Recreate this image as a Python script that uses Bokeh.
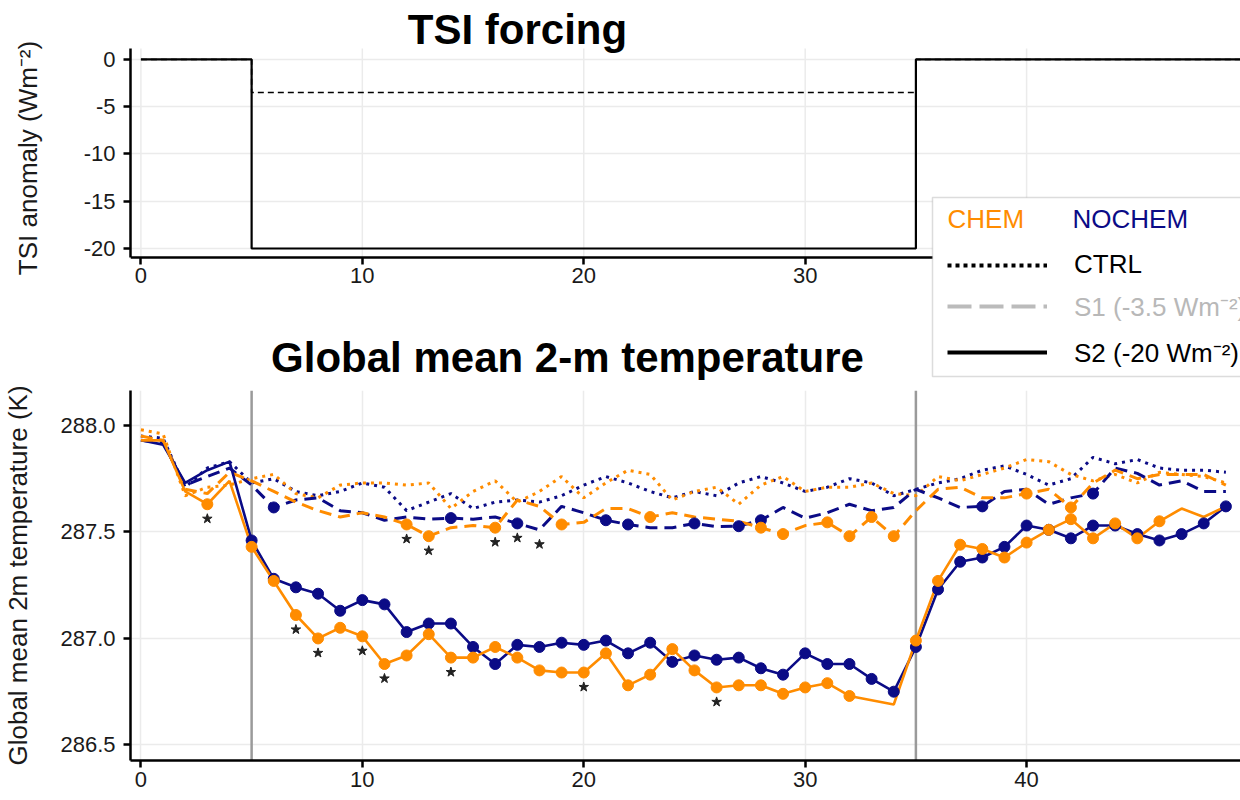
import numpy as np
from bokeh.plotting import figure
from bokeh.layouts import column
from bokeh.models import (Range1d, FixedTicker, NumeralTickFormatter, Span, Label,
                          Legend, LegendItem, BoxAnnotation, ColumnDataSource)
from bokeh.embed import file_html
from bokeh.resources import INLINE

# ---------------- data ----------------
years = list(range(50))

chem_ctrl = [287.98, 287.96, 287.67, 287.71, 287.72, 287.75, 287.77, 287.68, 287.66, 287.72,
             287.73, 287.73, 287.72, 287.73, 287.61, 287.69, 287.74, 287.64, 287.69, 287.76,
             287.66, 287.73, 287.79, 287.77, 287.65, 287.69, 287.71, 287.63, 287.72, 287.76,
             287.69, 287.71, 287.71, 287.73, 287.68, 287.67, 287.76, 287.74, 287.77, 287.80,
             287.84, 287.83, 287.77, 287.74, 287.77, 287.73, 287.78, 287.77, 287.76, 287.73]
nochem_ctrl = [287.95, 287.94, 287.71, 287.80, 287.83, 287.73, 287.75, 287.69, 287.67, 287.69,
               287.73, 287.71, 287.60, 287.64, 287.68, 287.61, 287.64, 287.65, 287.64, 287.67,
               287.72, 287.76, 287.73, 287.69, 287.66, 287.69, 287.67, 287.73, 287.76, 287.73,
               287.69, 287.71, 287.75, 287.73, 287.67, 287.70, 287.73, 287.75, 287.79, 287.81,
               287.77, 287.72, 287.75, 287.85, 287.82, 287.84, 287.80, 287.79, 287.79, 287.78]
chem_s1 = [287.95, 287.93, 287.70, 287.68, 287.78, 287.74, 287.69, 287.64, 287.60, 287.57,
           287.59, 287.57, 287.535, 287.48, 287.52, 287.53, 287.52, 287.65, 287.62, 287.535,
           287.545, 287.61, 287.61, 287.57, 287.59, 287.57, 287.56, 287.55, 287.52, 287.49,
           287.53, 287.545, 287.48, 287.57, 287.48, 287.60, 287.70, 287.71, 287.66, 287.66,
           287.68, 287.70, 287.615, 287.73, 287.79, 287.75, 287.77, 287.77, 287.77, 287.72]
nochem_s1 = [287.93, 287.92, 287.72, 287.76, 287.80, 287.72, 287.615, 287.65, 287.66, 287.60,
             287.59, 287.555, 287.57, 287.56, 287.565, 287.56, 287.57, 287.54, 287.51, 287.62,
             287.59, 287.555, 287.535, 287.52, 287.52, 287.54, 287.525, 287.527, 287.555, 287.615,
             287.565, 287.59, 287.63, 287.60, 287.615, 287.70, 287.66, 287.615, 287.62, 287.69,
             287.70, 287.63, 287.66, 287.68, 287.80, 287.775, 287.72, 287.74, 287.69, 287.69]
chem_s2 = [287.93, 287.93, 287.69, 287.63, 287.74, 287.43, 287.27, 287.11, 287.00, 287.05,
           287.01, 286.88, 286.92, 287.02, 286.91, 286.91, 286.96, 286.91, 286.85, 286.84,
           286.84, 286.93, 286.78, 286.83, 286.95, 286.85, 286.77, 286.78, 286.78, 286.74,
           286.77, 286.79, 286.73, 286.71, 286.69, 286.99, 287.27, 287.44, 287.42, 287.38,
           287.45, 287.51, 287.56, 287.47, 287.54, 287.47, 287.55, 287.61, 287.57, 287.62]
nochem_s2 = [287.93, 287.91, 287.73, 287.79, 287.83, 287.46, 287.28, 287.24, 287.21, 287.13,
             287.18, 287.16, 287.03, 287.07, 287.07, 286.96, 286.88, 286.97, 286.96, 286.98,
             286.97, 286.99, 286.93, 286.98, 286.89, 286.92, 286.90, 286.91, 286.86, 286.83,
             286.93, 286.88, 286.88, 286.81, 286.75, 286.96, 287.23, 287.36, 287.38, 287.43,
             287.53, 287.51, 287.47, 287.53, 287.53, 287.49, 287.46, 287.49, 287.54, 287.62]

# years drawn with a dot (significant vs CTRL)
chem_s1_dots = [12, 13, 16, 19, 23, 28, 29, 31, 32, 33, 34, 40, 42]
nochem_s1_dots = [6, 14, 17, 21, 22, 25, 27, 28, 38, 43]
chem_s2_dots = [3, 5, 6, 7, 8, 9, 10, 11, 12, 13, 14, 15, 16, 17, 18, 19, 20, 21, 22, 23, 24,
                25, 26, 27, 28, 29, 30, 31, 32, 35, 36, 37, 38, 39, 40, 41, 42, 43, 44, 45, 46]
nochem_s2_dots = [5, 6, 7, 8, 9, 10, 11, 12, 13, 14, 15, 16, 17, 18, 19, 20, 21, 22, 23, 24, 25,
                  26, 27, 28, 29, 30, 31, 32, 33, 34, 35, 36, 37, 38, 39, 40, 41, 42, 43, 44, 45,
                  46, 47, 48, 49]
# years with a star (CHEM vs NOCHEM difference significant)
stars_s1 = [12, 13, 16, 17, 18]
stars_s2 = [3, 7, 8, 10, 11, 14, 20, 26]

# TSI forcing
tsi_years = [0, 5, 35, 50]
tsi_s1 = [0, -3.5, 0, 0]
tsi_s2 = [0, -20, 0, 0]

x_ticks = [0, 10, 20, 30, 40]
tsi_ticks = [0, -5, -10, -15, -20]
temp_ticks = [286.5, 287.0, 287.5, 288.0]

# ---------------- style ----------------
FONT = "Liberation Sans"
ORANGE = "#FF8C00"
NAVY = "#0B0B86"
GRID = "#EBEBEB"


def style(p, ylabel, label_standoff):
    p.outline_line_color = None
    p.background_fill_color = "white"
    p.border_fill_color = "white"
    for ax in (p.xaxis[0], p.yaxis[0]):
        ax.axis_line_color = "black"
        ax.axis_line_width = 2.5
        ax.major_tick_line_color = "black"
        ax.major_tick_line_width = 2.5
        ax.major_tick_out = 7
        ax.major_tick_in = 0
        ax.minor_tick_line_color = None
        ax.major_label_text_font = FONT
        ax.major_label_text_font_size = "22px"
        ax.major_label_text_color = "#1a1a1a"
    p.yaxis[0].major_label_standoff = 8
    p.xaxis[0].major_label_standoff = 4
    p.yaxis[0].axis_label = ylabel
    p.yaxis[0].axis_label_text_font = FONT
    p.yaxis[0].axis_label_text_font_size = "26px"
    p.yaxis[0].axis_label_text_font_style = "normal"
    p.yaxis[0].axis_label_text_color = "#1a1a1a"
    p.yaxis[0].axis_label_standoff = label_standoff
    p.xgrid.grid_line_color = GRID
    p.ygrid.grid_line_color = GRID
    p.xgrid.grid_line_width = 1.5
    p.ygrid.grid_line_width = 1.5


x_range = Range1d(-0.47, 49.66)

# ---------------- top panel ----------------
# The frame reaches down to the bottom of the canvas so that the legend and the second
# title, which sit below the TSI panel, are not clipped; the x axis sits at a fixed place.
TSI_LO, TSI_HI = -20.95, 1.15
top = figure(width=1240, height=380, x_range=x_range, y_range=Range1d(-33.97, 6.24),
             output_backend="svg", toolbar_location=None,
             min_border_left=128, min_border_right=0, min_border_top=0, min_border_bottom=0)
# the axis label is centred on the whole (taller) frame: lead it with no-break spaces so
# that the visible words sit beside the TSI panel itself
style(top, "\u00a0" * 9 + "TSI anomaly (Wm\u207b\u00b2)", 38)
top.xaxis.ticker = FixedTicker(ticks=x_ticks)
top.yaxis.ticker = FixedTicker(ticks=tsi_ticks)
top.yaxis.formatter = NumeralTickFormatter(format="0")
top.xaxis.fixed_location = TSI_LO
top.yaxis.bounds = (TSI_LO, TSI_HI)
top.xgrid.grid_line_color = None
top.segment(x0=x_ticks, y0=[TSI_LO] * len(x_ticks), x1=x_ticks, y1=[TSI_HI] * len(x_ticks),
            line_color=GRID, line_width=1.5, level="underlay")

top.step(tsi_years, tsi_s2, mode="after", line_color="black", line_width=2.2)
top.step(tsi_years, tsi_s1, mode="after", line_color="black", line_width=1.6, line_dash="6 4")

top.add_layout(Label(x=387, y=351, x_units="screen", y_units="screen", text="TSI forcing",
                     text_align="center", text_baseline="middle", text_font=FONT,
                     text_font_size="42px", text_font_style="bold", text_color="black"))
top.add_layout(Label(x=437, y=23, x_units="screen", y_units="screen",
                     text="Global mean 2-m temperature",
                     text_align="center", text_baseline="middle", text_font=FONT,
                     text_font_size="42px", text_font_style="bold", text_color="black"))

# legend box
top.add_layout(BoxAnnotation(left=802, right=1190, top=183, bottom=4,
                             left_units="screen", right_units="screen",
                             top_units="screen", bottom_units="screen",
                             fill_color="white", fill_alpha=1.0,
                             line_color="#8c8c8c", line_width=1.5, level="overlay"))
top.add_layout(Label(x=817, y=162, x_units="screen", y_units="screen", text="CHEM",
                     text_baseline="middle", text_font=FONT, text_font_size="26px",
                     text_color=ORANGE, level="overlay"))
top.add_layout(Label(x=942, y=162, x_units="screen", y_units="screen", text="NOCHEM",
                     text_baseline="middle", text_font=FONT, text_font_size="26px",
                     text_color=NAVY, level="overlay"))

leg_specs = [
    ("CTRL", "black", "4 4", "black", 100),
    ("S1 (-3.5 Wm\u207b\u00b2)", "#BBBBBB", "24 8", "#B8B8B8", 56),
    ("S2 (-20 Wm\u207b\u00b2)", "black", "solid", "black", 10),
]
for label, lcol, dash, tcol, ypos in leg_specs:
    # sample-only renderer: a single NaN point, so nothing is drawn in the panel
    r = top.line(x=np.array([np.nan]), y=np.array([np.nan]), line_color=lcol,
                 line_width=4, line_dash=dash)
    leg = Legend(items=[LegendItem(label=label, renderers=[r])], location=(817, ypos),
                 glyph_width=100, glyph_height=30, label_height=30, label_standoff=27,
                 label_text_font=FONT, label_text_font_size="26px", label_text_color=tcol,
                 padding=0, margin=0, border_line_alpha=0, background_fill_alpha=0,
                 level="overlay")
    top.add_layout(leg)

# ---------------- bottom panel ----------------
bot = figure(width=1240, height=420, x_range=x_range, y_range=Range1d(286.427, 288.164),
             output_backend="svg", toolbar_location=None,
             min_border_left=128, min_border_right=0, min_border_top=10, min_border_bottom=40)
style(bot, "Global mean 2m temperature (K)", 24)
bot.xaxis.ticker = FixedTicker(ticks=x_ticks)
bot.yaxis.ticker = FixedTicker(ticks=temp_ticks)
bot.yaxis.formatter = NumeralTickFormatter(format="0.0")

for loc in (5, 35):
    bot.add_layout(Span(location=loc, dimension="height", line_color="#9a9a9a",
                        line_width=2.5, level="underlay"))

src = ColumnDataSource(dict(year=years, chem_ctrl=chem_ctrl, nochem_ctrl=nochem_ctrl,
                            chem_s1=chem_s1, nochem_s1=nochem_s1,
                            chem_s2=chem_s2, nochem_s2=nochem_s2))

DOT = "3 5"
DASH = "12 7"
bot.line("year", "nochem_ctrl", source=src, line_color=NAVY, line_width=3, line_dash=DOT)
bot.line("year", "chem_ctrl", source=src, line_color=ORANGE, line_width=3, line_dash=DOT)
bot.line("year", "nochem_s1", source=src, line_color=NAVY, line_width=3, line_dash=DASH)
bot.line("year", "chem_s1", source=src, line_color=ORANGE, line_width=3, line_dash=DASH)
bot.line("year", "nochem_s2", source=src, line_color=NAVY, line_width=2.6)
bot.line("year", "chem_s2", source=src, line_color=ORANGE, line_width=2.6)


def dots(series, yrs, color):
    bot.scatter(x=yrs, y=[series[y] for y in yrs], marker="circle", size=11,
                fill_color=color, line_color=color)


dots(nochem_s1, nochem_s1_dots, NAVY)
dots(chem_s1, chem_s1_dots, ORANGE)
dots(nochem_s2, nochem_s2_dots, NAVY)
dots(chem_s2, chem_s2_dots, ORANGE)

STAR_OFFSET = 0.068
for a, b, yrs in ((chem_s1, nochem_s1, stars_s1), (chem_s2, nochem_s2, stars_s2)):
    bot.scatter(x=yrs, y=[min(a[y], b[y]) - STAR_OFFSET for y in yrs], marker="star",
                size=10, fill_color="#222222", line_color="#222222")

layout = column(top, bot, spacing=0)
open("out.html", "w").write(file_html(layout, INLINE))
